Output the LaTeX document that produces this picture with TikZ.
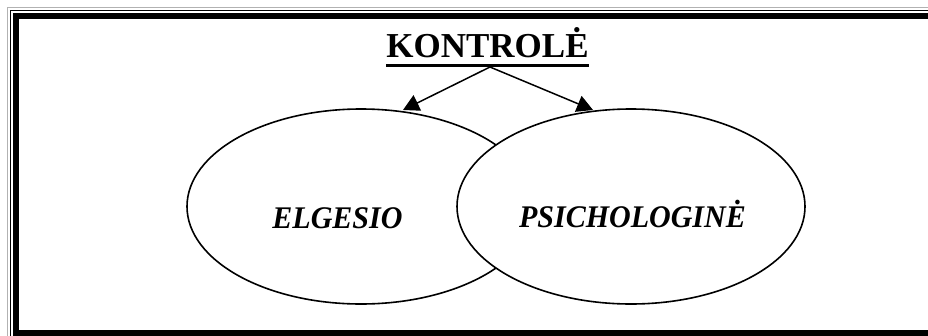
\documentclass[tikz,border=0pt]{standalone}
\usepackage{fontspec}
\setmainfont{Liberation Serif}
\usetikzlibrary{arrows.meta,shapes.geometric}
\tikzset{
  oval/.style={draw=black, line width=1.6pt, fill=white, ellipse, inner sep=0pt},
  lbl/.style={font=\fontsize{30}{32}\selectfont\bfseries\itshape, inner sep=0pt, anchor=base, yscale=1.05, transform shape},
  arr/.style={line width=1.5pt, -{Triangle[length=16pt,width=17pt]}},
}
\begin{document}
\begin{tikzpicture}[x=1pt,y=-1pt]
\useasboundingbox (0,0) rectangle (928,335);
\clip (0,0) rectangle (928,335);
\fill[white] (0,0) rectangle (928,335);
% frame
\draw[gray!60, line width=1.5pt] (7.5,7.5) rectangle (960,360);
\draw[black, line width=1.5pt] (10.5,10.5) rectangle (960,360);
\draw[black, line width=6pt] (16,16) rectangle (950,333);
% ellipses
\node[oval, minimum width=348pt, minimum height=195pt] (el) at (361,206.5) {};
\node[oval, minimum width=348pt, minimum height=195pt] (ps) at (631,206.5) {};
\node[lbl] (elt) at (337.5,228) {ELGESIO};
\node[lbl] (pst) at (632.5,227) {PSICHOLOGINĖ};
% title
\node[font=\fontsize{35}{37}\selectfont\bfseries, inner sep=0pt, anchor=base] (k) at (487.5,57) {KONTROLĖ};
\draw[line width=3pt] ([yshift=-8pt]k.base west) -- ([yshift=-8pt]k.base east);
\coordinate (src) at (490,67);
\coordinate (lt) at (403,110);
\coordinate (rt) at (593,110);
\draw[arr] (src) -- (lt);
\draw[arr] (src) -- (rt);
\end{tikzpicture}
\end{document}
